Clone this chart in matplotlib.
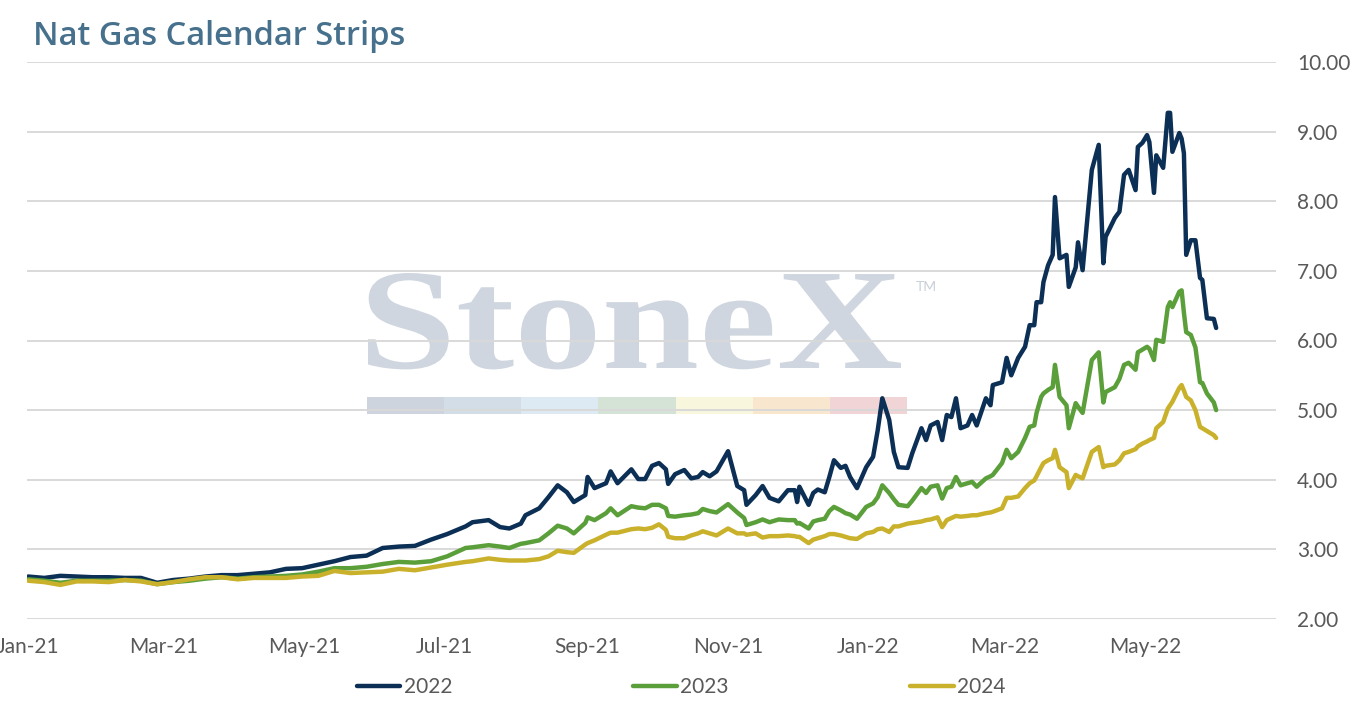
import matplotlib
matplotlib.use("Agg")
import matplotlib.pyplot as plt
import matplotlib.dates as mdates
import pandas as pd
from matplotlib.patches import Rectangle, PathPatch
from matplotlib.textpath import TextPath
from matplotlib.font_manager import FontProperties
from matplotlib.transforms import Affine2D
from matplotlib.ticker import StrMethodFormatter

plt.rcParams['font.family'] = ['Lato', 'DejaVu Sans']

# settlement dates
date_labels = [
    "2021-01-01", "2021-01-08", "2021-01-15", "2021-01-22", "2021-01-29", "2021-02-05", "2021-02-12", "2021-02-19", "2021-02-26", "2021-03-05",
    "2021-03-12", "2021-03-19", "2021-03-26", "2021-04-02", "2021-04-09", "2021-04-16", "2021-04-23", "2021-04-30", "2021-05-07", "2021-05-14",
    "2021-05-21", "2021-05-28", "2021-06-04", "2021-06-11", "2021-06-18", "2021-06-25",
    "2021-07-02", "2021-07-10", "2021-07-13", "2021-07-20", "2021-07-25", "2021-07-29", "2021-08-03", "2021-08-05", "2021-08-11", "2021-08-15",
    "2021-08-19", "2021-08-23", "2021-08-26", "2021-08-31", "2021-09-01", "2021-09-04", "2021-09-09", "2021-09-11", "2021-09-14", "2021-09-20",
    "2021-09-23", "2021-09-26", "2021-09-29", "2021-10-02", "2021-10-05", "2021-10-06", "2021-10-09", "2021-10-13", "2021-10-16", "2021-10-19",
    "2021-10-21", "2021-10-24", "2021-10-27", "2021-11-01", "2021-11-05", "2021-11-08", "2021-11-09", "2021-11-13", "2021-11-16", "2021-11-19",
    "2021-11-23", "2021-11-27", "2021-11-30", "2021-12-01", "2021-12-02", "2021-12-06", "2021-12-08", "2021-12-10", "2021-12-13", "2021-12-15",
    "2021-12-17", "2021-12-20", "2021-12-22", "2021-12-24", "2021-12-27", "2021-12-31",
    "2022-01-03", "2022-01-05", "2022-01-07", "2022-01-10", "2022-01-12", "2022-01-14", "2022-01-18", "2022-01-20", "2022-01-24", "2022-01-26",
    "2022-01-28", "2022-01-31", "2022-02-02", "2022-02-04", "2022-02-06", "2022-02-08", "2022-02-10", "2022-02-13", "2022-02-15", "2022-02-17",
    "2022-02-21", "2022-02-23", "2022-02-24", "2022-02-28",
    "2022-03-02", "2022-03-04", "2022-03-07", "2022-03-10", "2022-03-12", "2022-03-14", "2022-03-15", "2022-03-17", "2022-03-18", "2022-03-20",
    "2022-03-22", "2022-03-23", "2022-03-25", "2022-03-28", "2022-03-29", "2022-04-01", "2022-04-02", "2022-04-04", "2022-04-08", "2022-04-11",
    "2022-04-13", "2022-04-14", "2022-04-18", "2022-04-20", "2022-04-22", "2022-04-24", "2022-04-27", "2022-04-28", "2022-04-30", "2022-05-02",
    "2022-05-03", "2022-05-05", "2022-05-06", "2022-05-09", "2022-05-11", "2022-05-12", "2022-05-13", "2022-05-16", "2022-05-17", "2022-05-18",
    "2022-05-19", "2022-05-21", "2022-05-23", "2022-05-25", "2022-05-26", "2022-05-28", "2022-05-31", "2022-06-01",
]

strip_2022 = [
    2.61, 2.59, 2.62, 2.61, 2.60, 2.60, 2.59, 2.59, 2.52, 2.56,
    2.58, 2.61, 2.63, 2.63, 2.65, 2.67, 2.72, 2.73, 2.78, 2.83,
    2.89, 2.91, 3.02, 3.04, 3.05, 3.14,
    3.22, 3.33, 3.39, 3.42, 3.32, 3.30, 3.37, 3.49, 3.59, 3.75,
    3.92, 3.82, 3.68, 3.78, 4.04, 3.88, 3.95, 4.12, 3.95, 4.15,
    4.01, 4.01, 4.20, 4.24, 4.15, 3.94, 4.08, 4.14, 4.02, 4.04,
    4.11, 4.05, 4.12, 4.41, 3.91, 3.85, 3.64, 3.78, 3.91, 3.74,
    3.69, 3.85, 3.85, 3.68, 3.90, 3.64, 3.81, 3.86, 3.82, 4.04,
    4.28, 4.17, 4.20, 4.04, 3.88, 4.18,
    4.33, 4.71, 5.17, 4.86, 4.40, 4.18, 4.17, 4.38, 4.74, 4.57,
    4.78, 4.83, 4.57, 4.93, 4.90, 5.17, 4.74, 4.78, 4.93, 4.78,
    5.17, 5.07, 5.36, 5.40,
    5.75, 5.50, 5.75, 5.91, 6.22, 6.22, 6.55, 6.55, 6.84, 7.08,
    7.23, 8.06, 7.18, 7.23, 6.77, 7.05, 7.41, 7.01, 8.45, 8.81,
    7.11, 7.49, 7.76, 7.85, 8.38, 8.45, 8.16, 8.78, 8.84, 8.95,
    8.85, 8.12, 8.66, 8.48, 9.27, 9.27, 8.71, 8.98, 8.90, 8.69,
    7.23, 7.44, 7.44, 6.90, 6.87, 6.32, 6.31, 6.18,
]

strip_2023 = [
    2.57, 2.55, 2.52, 2.55, 2.55, 2.55, 2.56, 2.55, 2.50, 2.53,
    2.55, 2.58, 2.60, 2.58, 2.60, 2.61, 2.62, 2.64, 2.68, 2.73,
    2.73, 2.75, 2.79, 2.82, 2.81, 2.83,
    2.90, 3.02, 3.03, 3.06, 3.04, 3.02, 3.08, 3.09, 3.13, 3.23,
    3.34, 3.30, 3.23, 3.38, 3.46, 3.42, 3.52, 3.59, 3.49, 3.62,
    3.60, 3.59, 3.64, 3.64, 3.59, 3.48, 3.47, 3.49, 3.50, 3.52,
    3.58, 3.55, 3.53, 3.65, 3.53, 3.45, 3.35, 3.39, 3.43, 3.39,
    3.43, 3.42, 3.42, 3.37, 3.38, 3.30, 3.40, 3.42, 3.44, 3.55,
    3.61, 3.56, 3.52, 3.50, 3.44, 3.61,
    3.66, 3.75, 3.92, 3.81, 3.72, 3.64, 3.62, 3.70, 3.88, 3.81,
    3.90, 3.92, 3.73, 3.88, 3.90, 4.04, 3.92, 3.95, 3.97, 3.90,
    4.02, 4.05, 4.07, 4.24,
    4.43, 4.31, 4.40, 4.60, 4.76, 4.78, 4.96, 5.19, 5.24, 5.29,
    5.33, 5.65, 5.19, 5.07, 4.74, 5.10, 5.05, 4.96, 5.72, 5.83,
    5.11, 5.26, 5.33, 5.45, 5.65, 5.68, 5.58, 5.83, 5.87, 5.91,
    5.88, 5.72, 6.01, 5.98, 6.48, 6.55, 6.48, 6.70, 6.72, 6.40,
    6.12, 6.08, 5.90, 5.40, 5.39, 5.24, 5.11, 5.00,
]

strip_2024 = [
    2.55, 2.53, 2.49, 2.54, 2.54, 2.53, 2.56, 2.54, 2.50, 2.53,
    2.57, 2.60, 2.60, 2.57, 2.59, 2.59, 2.59, 2.61, 2.62, 2.69,
    2.66, 2.67, 2.68, 2.72, 2.70, 2.74,
    2.78, 2.82, 2.83, 2.87, 2.85, 2.84, 2.84, 2.84, 2.86, 2.90,
    2.98, 2.96, 2.95, 3.07, 3.09, 3.13, 3.21, 3.24, 3.24, 3.29,
    3.30, 3.29, 3.31, 3.36, 3.28, 3.18, 3.16, 3.16, 3.20, 3.23,
    3.26, 3.23, 3.20, 3.30, 3.23, 3.23, 3.21, 3.23, 3.17, 3.19,
    3.19, 3.20, 3.19, 3.18, 3.18, 3.09, 3.14, 3.16, 3.19, 3.22,
    3.22, 3.20, 3.18, 3.16, 3.15, 3.23,
    3.25, 3.29, 3.30, 3.25, 3.33, 3.33, 3.37, 3.38, 3.40, 3.42,
    3.43, 3.46, 3.32, 3.42, 3.45, 3.48, 3.47, 3.48, 3.49, 3.49,
    3.52, 3.53, 3.54, 3.59,
    3.74, 3.74, 3.76, 3.88, 3.95, 3.99, 4.05, 4.18, 4.24, 4.28,
    4.31, 4.43, 4.18, 4.11, 3.88, 4.07, 4.05, 4.02, 4.40, 4.47,
    4.18, 4.20, 4.22, 4.28, 4.38, 4.40, 4.44, 4.48, 4.52, 4.55,
    4.57, 4.60, 4.74, 4.83, 5.02, 5.07, 5.12, 5.32, 5.36, 5.28,
    5.19, 5.14, 5.00, 4.76, 4.74, 4.70, 4.64, 4.60,
]

series_names = ["2022", "2023", "2024"]
series_colors = ["#0c2f55", "#5b9f3b", "#c9b12c"]

y_ticks = [2, 3, 4, 5, 6, 7, 8, 9, 10]

# watermark band colours
band_colors = ["#cdd4dd", "#d3dde7", "#deeaf3", "#d4e3d5", "#f8f6dc", "#f8e6cf", "#f1d4d6"]

W, H = 1354, 708


def fx(px):
    return px / W


def fy(py):
    return 1 - py / H


fig = plt.figure(figsize=(13.54, 7.08), dpi=100)
ax = fig.add_axes([fx(27), fy(619), fx(1276) - fx(27), fy(62) - fy(619)])
ax.set_facecolor('none')

# StoneX watermark behind the plot
tp = TextPath((0, 0), "StoneX", size=1,
              prop=FontProperties(family='Liberation Serif', weight='bold'))
bb = tp.get_extents()
sx = (fx(901) - fx(368)) / bb.width
sy = (fy(273) - fy(368)) / bb.y1
tr = Affine2D().translate(-bb.x0, 0).scale(sx, sy).translate(fx(368), fy(368)) + fig.transFigure
fig.add_artist(PathPatch(tp, transform=tr, facecolor='#cfd6df', edgecolor='none', zorder=-2))
fig.text(fx(916), fy(287), 'TM', fontsize=10, color='#c8cfd8', va='center', ha='left', zorder=-2)
seg = (907 - 367) / len(band_colors)
for i, c in enumerate(band_colors):
    fig.add_artist(Rectangle((fx(367 + i * seg), fy(414)), seg / W, fy(397) - fy(414),
                             transform=fig.transFigure, facecolor=c, edgecolor='none', zorder=-2))

dates = pd.to_datetime(date_labels)
for vals, name, col in zip([strip_2022, strip_2023, strip_2024], series_names, series_colors):
    assert len(vals) == len(dates)
    ax.plot(dates, vals, color=col, lw=3.2, label=name, solid_capstyle='round', zorder=3)

ax.set_ylim(2, 10)
ax.set_yticks(y_ticks)
ax.yaxis.set_major_formatter(StrMethodFormatter('{x:.2f}'))
ax.yaxis.tick_right()
ax.set_xlim(pd.Timestamp('2020-12-31 12:00'), pd.Timestamp('2022-06-27'))
ax.xaxis.set_major_locator(mdates.MonthLocator(bymonth=[1, 3, 5, 7, 9, 11]))
ax.xaxis.set_major_formatter(mdates.DateFormatter('%b-%y'))

ax.yaxis.grid(True, color='#d9d9d9', lw=1.4)
ax.set_axisbelow(True)
for s in ax.spines.values():
    s.set_visible(False)
ax.tick_params(axis='y', length=0, pad=15, labelsize=15, labelcolor='#595959')
ax.tick_params(axis='x', length=0, pad=13, labelsize=15, labelcolor='#595959')

fig.text(fx(33), fy(45), 'Nat Gas Calendar Strips', fontsize=23.5, fontweight='semibold',
         family=['Open Sans', 'DejaVu Sans'], color='#46708c', va='baseline', ha='left')

fig.legend(loc='center', bbox_to_anchor=(fx(681), fy(687)), ncol=3, frameon=False,
           fontsize=15, handlelength=2.1, handletextpad=0.15, columnspacing=8.7,
           labelcolor='#595959')

fig.savefig('out.png', dpi=100)
